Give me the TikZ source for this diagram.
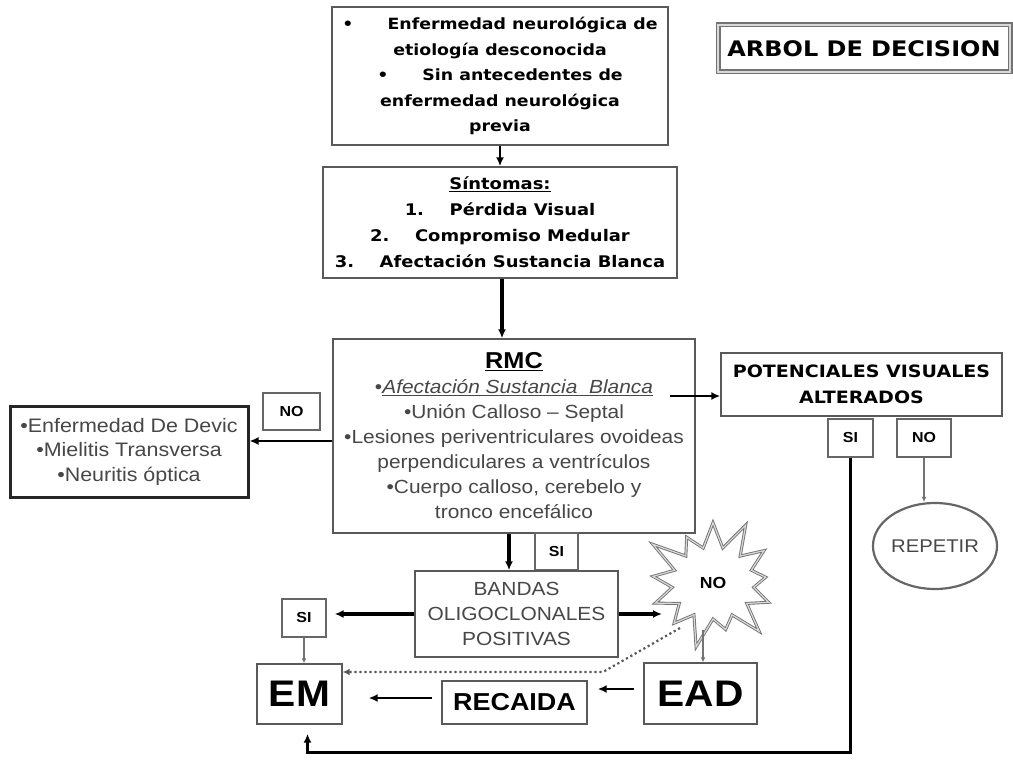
\documentclass[tikz,border=0pt]{standalone}
\usepackage{fontspec}
\setmainfont[FakeStretch=1.1]{Liberation Sans}
\newfontfamily\verdana[FakeStretch=1.12]{DejaVu Sans}
\usetikzlibrary{
    arrows.meta,
    positioning,
    shapes.geometric,
    shapes.symbols,
    calc
}

\begin{document}
\begin{tikzpicture}[
    x=1pt, y=-1pt,
    box/.style={rectangle, draw=black!65, line width=1.4pt, fill=white, align=center, inner sep=0pt},
    tag/.style={rectangle, draw=black!60, line width=1.3pt, inner sep=0pt, font=\bfseries\fontsize{14.5}{16}\selectfont},
    bigbox/.style={box, font=\bfseries\fontsize{37}{40}\selectfont},
    greytext/.style={text=black!72},
    arr/.style={-{Latex[length=9pt,width=8pt]}, line width=2.6pt},
    thinarr/.style={-{Latex[length=5pt,width=5pt]}, line width=1.1pt, draw=black!55},
    dotarr/.style={-{Latex[length=7pt,width=7pt]}, line width=2.2pt, dash pattern=on 2.2pt off 2.8pt, draw=black!65}
]
\useasboundingbox (0,0) rectangle (1013,760);

% Title
\node[box, draw=black!55, double=black!15, double distance=2pt, line width=1.5pt,
      minimum width=292pt, minimum height=47pt, font=\verdana\bfseries\fontsize{21.4}{24}\selectfont]
      (title) at (864,48.5) {ARBOL DE DECISION};

% Main column
\node[box, minimum width=336pt, minimum height=138pt, font=\verdana\bfseries\fontsize{15.5}{25.5}\selectfont]
      (cause) at (500,76)
      {\textbullet\hspace{2.2em}Enfermedad neurológica de\\ etiología desconocida\\
       \textbullet\hspace{2.2em}Sin antecedentes de\\ enfermedad neurológica\\ previa};
\node[box, minimum width=354pt, minimum height=111pt, font=\verdana\bfseries\fontsize{16}{26}\selectfont]
      (sint) at (500,222.5)
      {\underline{Síntomas:}\\ 1.\hspace{1.6em}Pérdida Visual\\ 2.\hspace{1.6em}Compromiso Medular\\
       3.\hspace{1.6em}Afectación Sustancia Blanca};
\node[box, greytext, minimum width=362pt, minimum height=194pt, font=\fontsize{19}{25}\selectfont]
      (rmc) at (514,436)
      {{\color{black}\bfseries\fontsize{23}{25}\selectfont\underline{RMC}}\\
       •\underline{\textit{Afectación Sustancia\ \ Blanca}}\\
       •Unión Calloso – Septal\\ •Lesiones periventriculares ovoideas\\
       perpendiculares a ventrículos\\ •Cuerpo calloso, cerebelo y\\ tronco encefálico};

% Visual potentials branch
\node[box, minimum width=281pt, minimum height=63pt, font=\verdana\bfseries\fontsize{17}{26}\selectfont]
      (pot) at (861.5,384.5) {POTENCIALES VISUALES\\ ALTERADOS};
\node[tag, minimum width=45pt, minimum height=38pt] (sipot) at (850.5,438) {SI};
\node[tag, minimum width=54pt, minimum height=38pt] (nopot) at (924,438) {NO};
\node[ellipse, draw=black!60, line width=2.2pt, greytext, minimum width=113pt, minimum height=86pt,
      inner sep=0pt, font=\fontsize{18.4}{20}\selectfont] (rep) at (935,546) {REPETIR};

% Differential diagnosis
\node[box, greytext, draw=black!85, line width=3pt, minimum width=238pt, minimum height=91pt,
      font=\fontsize{19.5}{24.5}\selectfont]
      (devic) at (129,451.5) {•Enfermedad De Devic\\ •Mielitis Transversa\\ •Neuritis óptica};
\node[tag, minimum width=57pt, minimum height=37pt] (nol) at (291.5,411.5) {NO};

% Oligoclonal bands
\node[tag, minimum width=43pt, minimum height=37pt] (sirmc) at (556.5,551.5) {SI};
\node[box, greytext, minimum width=203pt, minimum height=86pt, font=\fontsize{19}{25}\selectfont]
      (bandas) at (516.5,614) {BANDAS\\ OLIGOCLONALES\\ POSITIVAS};
\node[tag, minimum width=44pt, minimum height=38pt] (sil) at (304,618) {SI};
\node[starburst, starburst points=13, starburst point height=34pt, draw=black!55,
      double=black!15, double distance=1.2pt, line width=0.9pt, fill=white,
      minimum width=150pt, minimum height=140pt, inner sep=0pt,
      font=\bfseries\fontsize{16}{18}\selectfont] (burst) at (713,583) {NO};

% Outcomes
\node[bigbox, minimum width=85pt, minimum height=60pt] (em) at (299.5,694) {EM};
\node[box, minimum width=145pt, minimum height=43pt, font=\bfseries\fontsize{24.5}{27}\selectfont]
      (rec) at (514.5,702.5) {RECAIDA};
\node[bigbox, minimum width=113pt, minimum height=61pt] (ead) at (700.5,693.5) {EAD};

% Connectors
\coordinate (vis) at (670,396);
\coordinate (burstfoot) at (703,630);
\coordinate (burstleft) at (680,628);
\coordinate (bend) at (603,672);

\draw[arr, line width=2.2pt] (cause) -- (sint);
\draw[arr, line width=3.2pt] ([xshift=2pt]sint.south) -- ([xshift=2pt]sint.south |- rmc.north);
\draw[arr] (vis) -- (vis -| pot.west);
\draw[arr] ([yshift=-5pt]rmc.west) -- ([yshift=-5pt]rmc.west -| devic.east);
\draw[thinarr] (nopot.south) -- (nopot.south |- rep.north);
\draw[arr, line width=3.2pt, shorten >=9pt] (sipot.south) -- ++(0,295) -| ([xshift=8pt]em.south);
\draw[arr, line width=3.2pt] ([xshift=-5pt]rmc.south) -- ([xshift=-5pt]rmc.south |- bandas.north);
\draw[arr, line width=3.2pt, shorten >=8pt] (bandas.west) -- (bandas.west -| sil.east);
\draw[arr, line width=3.2pt] (bandas.east) -- ($(bandas.east -| burst.center)+(-51,0)$);
\draw[thinarr] (sil.south) -- (sil.south |- em.north);
\draw[thinarr] (burstfoot) -- (burstfoot |- ead.north);
\draw[dotarr] (burstleft) -- (bend) -- (bend -| em.east);
\draw[arr, shorten <=9pt, shorten >=10pt] ([yshift=4.5pt]ead.west) -- ([yshift=4.5pt]ead.west -| rec.east);
\draw[arr, shorten <=9pt, shorten >=26pt] ([yshift=4.5pt]rec.west) -- ([yshift=4.5pt]rec.west -| em.east);
\end{tikzpicture}
\end{document}
